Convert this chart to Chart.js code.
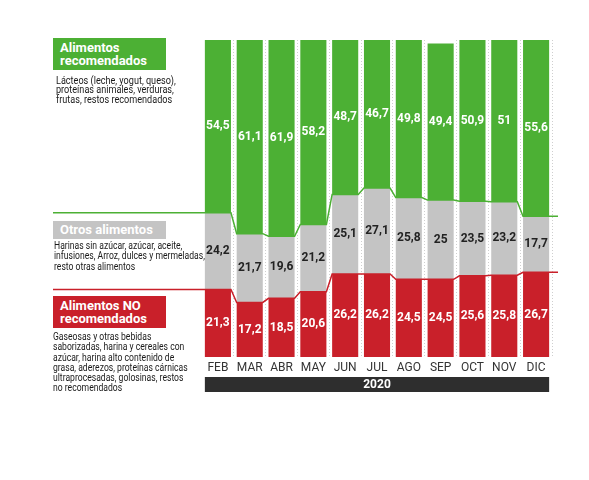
<!DOCTYPE html>
<html>
<head>
<meta charset="utf-8">
<script src="https://cdn.jsdelivr.net/npm/chart.js@4/dist/chart.umd.min.js"></script>
<style>
  html, body { margin: 0; padding: 0; background: #fff; }
  #wrap { position: relative; width: 589px; height: 480px; font-family: Roboto, sans-serif; }
  #wrap canvas { position: absolute; left: 0; top: 0; }
  .box { position: absolute; left: 53px; width: 113px; color: #fff; font-weight: bold;
         font-size: 13px; line-height: 13px; padding-left: 7px; box-sizing: border-box; }
  .desc { position: absolute; color: #1a1a1a; font-size: 10px; white-space: nowrap;
          transform-origin: left top; }
</style>
</head>
<body>
<div id="wrap">
  <canvas id="chart" width="589" height="480"></canvas>

  <div class="box" style="top:38px;height:32px;background:#4cb034;padding-top:3px;">Alimentos<br>recomendados</div>
  <div class="desc" style="left:56px;top:76px;line-height:9.4px;transform:scaleX(0.91);">Lácteos (leche, yogut, queso),<br>proteínas animales, verduras,<br>frutas, restos recomendados</div>

  <div class="box" style="top:221px;height:18px;background:#c4c4c4;padding-top:2px;">Otros alimentos</div>
  <div class="desc" style="left:54px;top:241px;line-height:10.4px;transform:scaleX(0.86);">Harinas sin azúcar, azúcar, aceite,<br>infusiones, Arroz, dulces y mermeladas,<br>resto otras alimentos</div>

  <div class="box" style="top:296px;height:32px;background:#c9202a;padding-top:3px;">Alimentos NO<br>recomendados</div>
  <div class="desc" style="left:53px;top:332px;line-height:10.3px;transform:scaleX(0.86);">Gaseosas y otras bebidas<br>saborizadas, harina y cereales con<br>azúcar, harina alto contenido de<br>grasa, aderezos, proteínas cárnicas<br>ultraprocesadas, golosinas, restos<br>no recomendados</div>
</div>

<script>
const months = ['FEB', 'MAR', 'ABR', 'MAY', 'JUN', 'JUL', 'AGO', 'SEP', 'OCT', 'NOV', 'DIC'];
const noRecomendados = [21.3, 17.2, 18.5, 20.6, 26.2, 26.2, 24.5, 24.5, 25.6, 25.8, 26.7];
const otros = [24.2, 21.7, 19.6, 21.2, 25.1, 27.1, 25.8, 25, 23.5, 23.2, 17.7];
const recomendados = [54.5, 61.1, 61.9, 58.2, 48.7, 46.7, 49.8, 49.4, 50.9, 51, 55.6];
const year = '2020';

const GREEN = '#4cb034';
const GRAY = '#c4c4c4';
const RED = '#c9202a';

// value labels, boundary lines and the year strip
const extras = {
  id: 'extras',
  afterDatasetsDraw(chart) {
    const ctx = chart.ctx;
    const area = chart.chartArea;

    // boundary lines: red/gray and gray/green
    const drawBoundary = (dsIndex, color) => {
      const bars = chart.getDatasetMeta(dsIndex).data;
      ctx.save();
      ctx.strokeStyle = color;
      ctx.lineWidth = 1.5;
      ctx.beginPath();
      ctx.moveTo(53, bars[0].y);
      bars.forEach(b => {
        ctx.lineTo(b.x - b.width / 2, b.y);
        ctx.lineTo(b.x + b.width / 2, b.y);
      });
      ctx.lineTo(558, bars[bars.length - 1].y);
      ctx.stroke();
      ctx.restore();
    };
    drawBoundary(0, RED);
    drawBoundary(1, GREEN);

    // labels
    ctx.save();
    ctx.font = 'bold 12px Roboto';
    ctx.textAlign = 'center';
    ctx.textBaseline = 'middle';
    chart.data.datasets.forEach((ds, i) => {
      ctx.fillStyle = i === 1 ? '#222' : '#fff';
      chart.getDatasetMeta(i).data.forEach((b, j) => {
        const txt = String(ds.data[j]).replace('.', ',');
        ctx.fillText(txt, b.x, (b.y + b.base) / 2);
      });
    });
    ctx.restore();

    // year strip
    const bars = chart.getDatasetMeta(0).data;
    const x0 = bars[0].x - bars[0].width / 2;
    const x1 = bars[bars.length - 1].x + bars[bars.length - 1].width / 2;
    const y0 = area.bottom + 20;
    ctx.save();
    ctx.fillStyle = '#2e2e2e';
    ctx.fillRect(x0, y0, x1 - x0, 15);
    ctx.fillStyle = '#fff';
    ctx.font = 'bold 12px Roboto';
    ctx.textAlign = 'center';
    ctx.textBaseline = 'middle';
    ctx.fillText(year, (x0 + x1) / 2, y0 + 8);
    ctx.restore();
  }
};

new Chart(document.getElementById('chart'), {
  type: 'bar',
  data: {
    labels: months,
    datasets: [
      { label: 'Alimentos NO recomendados', data: noRecomendados, backgroundColor: RED },
      { label: 'Otros alimentos', data: otros, backgroundColor: GRAY },
      { label: 'Alimentos recomendados', data: recomendados, backgroundColor: GREEN },
    ],
  },
  options: {
    responsive: false,
    animation: false,
    layout: { padding: { left: 202, right: 37, top: 40, bottom: 103 } },
    datasets: { bar: { barPercentage: 0.82, categoryPercentage: 1.0, borderWidth: 0 } },
    plugins: { legend: { display: false }, tooltip: { enabled: false } },
    scales: {
      x: {
        stacked: true,
        afterFit: (s) => { s.height = 20; },
        border: { display: false, dash: [1, 2] },
        grid: {
          offset: true,
          drawTicks: false,
          color: (c) => (c.index === 0 || c.index === months.length) ? 'rgba(0,0,0,0)' : '#cfcfcf',
          lineWidth: 1,
        },
        ticks: { color: '#333', font: { family: 'Roboto', size: 12 }, padding: 4 },
      },
      y: { stacked: true, min: 0, max: 100, display: false },
    },
  },
  plugins: [extras],
});
</script>
</body>
</html>
